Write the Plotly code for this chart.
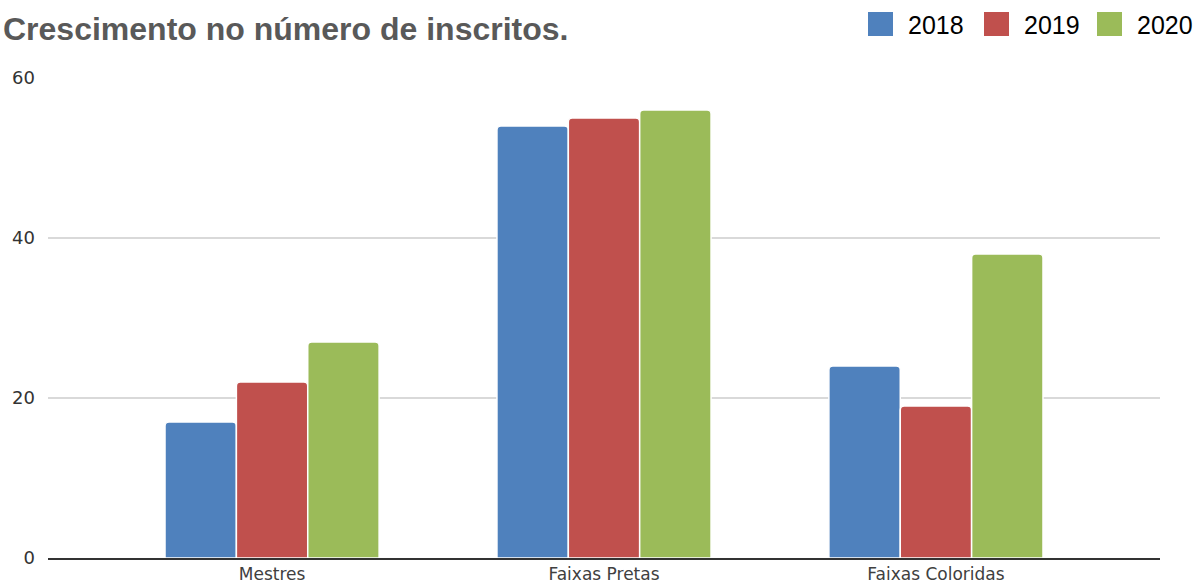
import plotly.graph_objects as go

categories = ["Mestres", "Faixas Pretas", "Faixas Coloridas"]
series_names = ["2018", "2019", "2020"]
values_2018 = [17, 54, 24]
values_2019 = [22, 55, 19]
values_2020 = [27, 56, 38]
colors = ["#4F81BD", "#C0504D", "#9BBB59"]
y_ticks = [0, 20, 40, 60]

series_values = [values_2018, values_2019, values_2020]

W, H = 1193, 587
L, R, T, B = 48, 33, 78, 29
PW, PH = W - L - R, H - T - B

fig = go.Figure()
for name, vals, col in zip(series_names, series_values, colors):
    fig.add_trace(go.Bar(
        x=list(range(len(categories))), y=vals, name=name,
        marker=dict(color=col, line=dict(color="white", width=1.5), cornerradius=4),
        showlegend=False,
    ))

def px_x(px):
    return (px - L) / PW

def px_y(py):
    return (H - B - py) / PH

# custom legend (top right)
legend_sq_x = [868, 984, 1097]
shapes = []
annotations = []
for i, (name, col) in enumerate(zip(series_names, colors)):
    x0 = legend_sq_x[i]
    shapes.append(dict(type="rect", xref="paper", yref="paper",
                       x0=px_x(x0), x1=px_x(x0 + 25), y0=px_y(36), y1=px_y(12),
                       fillcolor=col, line=dict(width=0), layer="above"))
    annotations.append(dict(text=name, xref="paper", yref="paper",
                            x=px_x(x0 + 38), y=px_y(25), xanchor="left", yanchor="middle",
                            showarrow=False,
                            font=dict(family="Liberation Sans, Arial, sans-serif", size=25, color="#000000")))

fig.update_layout(
    width=W, height=H,
    margin=dict(l=L, r=R, t=T, b=B, pad=0, autoexpand=False),
    paper_bgcolor="white", plot_bgcolor="white",
    barmode="group", bargap=0.355, bargroupgap=0.0,
    title=dict(text="Crescimento no número de inscritos.",
               x=3 / W, xanchor="left", xref="container",
               y=1 - 29 / H, yanchor="middle", yref="container",
               font=dict(family="Liberation Sans, Arial, sans-serif", size=32, color="#595959", weight="bold")),
    xaxis=dict(
        tickmode="array", tickvals=list(range(len(categories))), ticktext=categories,
        range=[-0.675, len(categories) - 1 + 0.675], automargin=False,
        showgrid=False, zeroline=False, showline=True, linecolor="#333333", linewidth=1.5,
        ticks="", ticklabelstandoff=0,
        tickfont=dict(family="DejaVu Sans, Verdana, sans-serif", size=17, color="#404040"),
    ),
    yaxis=dict(
        range=[0, 60], tickmode="array", tickvals=y_ticks, automargin=False,
        showgrid=True, gridcolor="#d9d9d9", gridwidth=1.5, zeroline=False, showline=False,
        ticks="", ticklabelstandoff=12,
        tickfont=dict(family="DejaVu Sans, Verdana, sans-serif", size=18, color="#333333"),
    ),
    shapes=shapes, annotations=annotations,
)

fig.write_html("out.html", config={"displayModeBar": False},
               post_script="document.body.style.margin='0';document.body.style.overflow='hidden';")
